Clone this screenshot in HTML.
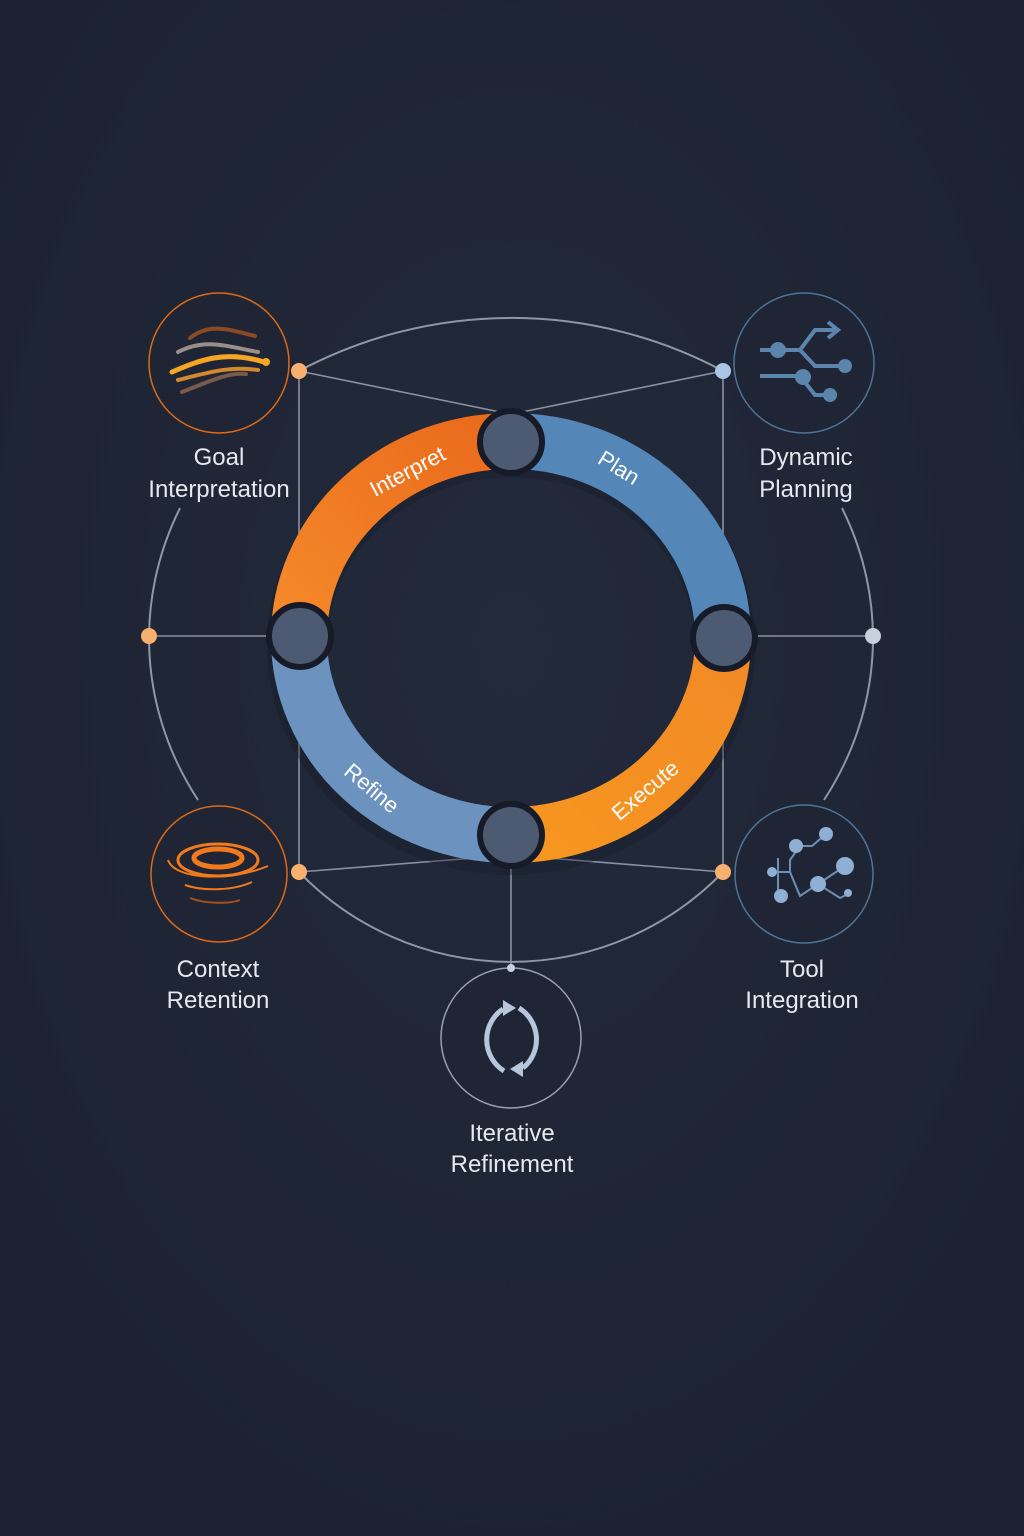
<!DOCTYPE html>
<html><head><meta charset="utf-8"><style>
html,body{margin:0;padding:0;background:#1f2535;}
svg{display:block}
text{font-family:"Liberation Sans","DejaVu Sans",sans-serif;}
</style></head><body>
<svg width="1024" height="1536" viewBox="0 0 1024 1536" xmlns="http://www.w3.org/2000/svg">
<defs>
<radialGradient id="bg" cx="50%" cy="42%" r="70%">
<stop offset="0" stop-color="#232a3b"/><stop offset="1" stop-color="#1b2130"/>
</radialGradient>
<linearGradient id="og" x1="0" y1="1" x2="1" y2="0"><stop offset="0" stop-color="#f5892a"/><stop offset="1" stop-color="#ea6a1c"/></linearGradient>
<linearGradient id="og2" x1="1" y1="0" x2="0" y2="1"><stop offset="0" stop-color="#f28a26"/><stop offset="1" stop-color="#f6961f"/></linearGradient>
</defs>
<rect width="1024" height="1536" fill="url(#bg)"/>
<!-- outer arcs -->
<g fill="none" stroke="#8f96a4" stroke-width="2">
<path d="M299,371 A450,450 0 0 1 723,371"/>
<path d="M198,800 A362,322 0 0 1 180,508"/>
<path d="M842,508 A362,322 0 0 1 824,800"/>
<path d="M723,872 A295,295 0 0 1 299,872"/>
</g>
<!-- connectors -->
<g stroke="#8a91a0" stroke-width="1.6" fill="none">
<path d="M299,371 L500,412 M723,371 L522,412"/>
<path d="M299,872 L500,856 M723,872 L522,856"/>
<path d="M299,371 V872 M723,371 V872"/>
<path d="M149,636 H280 M742,636 H873"/>
<path d="M511,860 V968"/>
</g>
<!-- icon circles -->
<g stroke-width="1.5">
<circle cx="219" cy="363" r="70" fill="#1f2535" stroke="#e06a14"/>
<circle cx="804" cy="363" r="70" fill="#1f2535" stroke="#4f7397"/>
<circle cx="219" cy="874" r="68" fill="#1f2535" stroke="#e06a14"/>
<circle cx="804" cy="874" r="69" fill="#1f2535" stroke="#4f7397"/>
<circle cx="511" cy="1038" r="70" fill="#1f2535" stroke="#9aa0ac"/>
</g>
<!-- ring shadow -->
<ellipse cx="511" cy="646" rx="214" ry="199" fill="none" stroke="#151a26" stroke-width="60" opacity="0.35"/>
<!-- ring -->
<g fill="none" stroke-width="56">
<path d="M299,638 A212,197 0 0 1 511,441" stroke="url(#og)"/>
<path d="M511,441 A212,197 0 0 1 723,638" stroke="#5486b8"/>
<path d="M723,638 A212,197 0 0 1 511,835" stroke="url(#og2)"/>
<path d="M511,835 A212,197 0 0 1 299,638" stroke="#6c93c0"/>
</g>
<!-- nodes -->
<g fill="#4c5a72" stroke="#161b27" stroke-width="6">
<circle cx="511" cy="442" r="31"/>
<circle cx="724" cy="638" r="31"/>
<circle cx="511" cy="835" r="31"/>
<circle cx="300" cy="636" r="31"/>
</g>
<!-- dots -->
<circle cx="299" cy="371" r="8" fill="#f8b070"/>
<circle cx="723" cy="371" r="8" fill="#a9c4e4"/>
<circle cx="149" cy="636" r="8" fill="#f8b070"/>
<circle cx="873" cy="636" r="8" fill="#c8d0dc"/>
<circle cx="299" cy="872" r="8" fill="#f8b070"/>
<circle cx="723" cy="872" r="8" fill="#f8b070"/>
<circle cx="511" cy="968" r="4" fill="#c8d0dc"/>
<!-- ring labels -->
<g fill="#ffffff" font-size="22" text-anchor="middle">
<text transform="translate(411,478) rotate(-28)">Interpret</text>
<text transform="translate(615,474) rotate(32)">Plan</text>
<text transform="translate(650,796) rotate(-40)">Execute</text>
<text transform="translate(367,794) rotate(40)">Refine</text>
</g>
<!-- icons -->
<g fill="none" stroke-linecap="round" stroke-width="4">
<path d="M190,338 C210,322 230,330 255,336" stroke="#8b4a24"/>
<path d="M178,352 C205,338 225,346 258,352" stroke="#9a8f88"/>
<path d="M172,372 C200,360 225,350 264,362" stroke="#f5a623" stroke-width="5"/>
<path d="M178,380 C210,372 230,366 258,370" stroke="#d2892c"/>
<path d="M182,392 C208,382 228,372 246,374" stroke="#7a5a48"/>
<circle cx="266" cy="362" r="4" fill="#f5a623" stroke="none"/>
</g>
<g stroke="#5b85ad" stroke-width="4" fill="none">
<path d="M760,350 H800 L815,330 H838 M828,322 L838,330 L828,338"/>
<path d="M800,350 L815,366 H845"/>
<path d="M760,376 H800 L815,395 H830"/>
<g fill="#5b85ad" stroke="none"><circle cx="778" cy="350" r="8"/><circle cx="845" cy="366" r="7"/><circle cx="803" cy="377" r="8"/><circle cx="830" cy="395" r="7"/></g>
</g>
<g fill="none" stroke="#f07a1c" stroke-width="3">
<ellipse cx="218" cy="858" rx="24" ry="9" stroke-width="5"/>
<ellipse cx="218" cy="860" rx="40" ry="16"/>
<path d="M168,860 C175,880 230,882 268,866" stroke-width="2"/>
<path d="M185,885 C205,892 235,890 252,882" stroke-width="2"/>
<path d="M190,898 C205,904 230,904 240,900" stroke-width="2" stroke="#a85018"/>
</g>
<g stroke="#6d8fb5" stroke-width="2" fill="none">
<path d="M772,872 H790 V860 L800,846 H812 L826,834 M790,872 L800,896 L818,884 L845,866 M818,884 L840,898 L848,894 M778,858 V895"/>
<g fill="#8fb0d4" stroke="none"><circle cx="826" cy="834" r="7"/><circle cx="796" cy="846" r="7"/><circle cx="845" cy="866" r="9"/><circle cx="818" cy="884" r="8"/><circle cx="781" cy="896" r="7"/><circle cx="772" cy="872" r="5"/><circle cx="848" cy="893" r="4"/></g>
</g>
<g fill="none" stroke="#b8c6dc" stroke-width="5">
<path d="M503,1009 A37,37 0 0 0 504,1071"/>
<path d="M519,1008 A37,37 0 0 1 523,1068"/>
<polygon points="503,1000 516,1008 503,1016" fill="#b8c6dc" stroke="none"/>
<polygon points="523,1061 510,1069 523,1077" fill="#b8c6dc" stroke="none"/>
</g>
<!-- labels -->
<g fill="#e6e9ef" font-size="24" text-anchor="middle">
<text x="219" y="465">Goal</text><text x="219" y="497">Interpretation</text>
<text x="806" y="465">Dynamic</text><text x="806" y="497">Planning</text>
<text x="218" y="977">Context</text><text x="218" y="1008">Retention</text>
<text x="802" y="977">Tool</text><text x="802" y="1008">Integration</text>
<text x="512" y="1141">Iterative</text><text x="512" y="1172">Refinement</text>
</g>
</svg>
</body></html>
